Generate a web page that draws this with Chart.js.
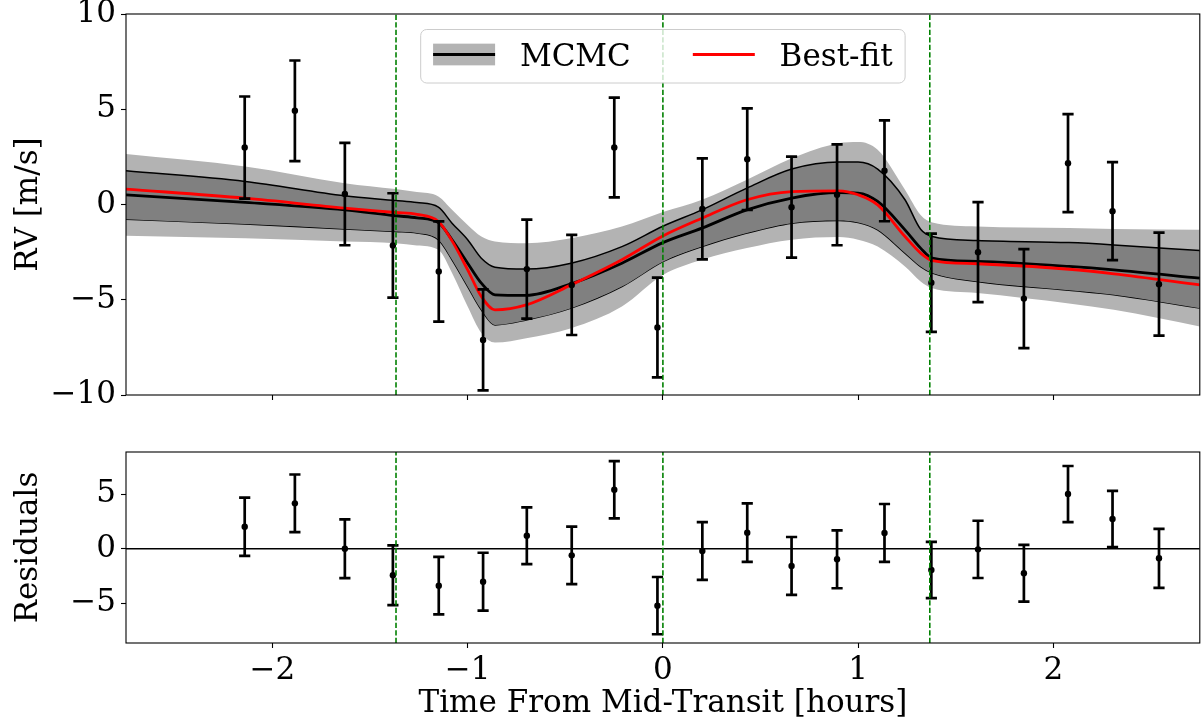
<!DOCTYPE html>
<html>
<head>
<meta charset="utf-8">
<title>RV and residuals vs time from mid-transit</title>
<script src="https://cdn.jsdelivr.net/npm/chart.js@4.4.1/dist/chart.umd.min.js"></script>
<style>
  html, body { margin:0; padding:0; background:#ffffff; }
  #stage { position:relative; width:1203px; height:725px; overflow:hidden; background:#ffffff; }
  #stage canvas { position:absolute; left:0; top:0; }
</style>
</head>
<body>
<div id="stage">
  <canvas id="rvCanvas" width="1203" height="725"></canvas>
  <canvas id="resCanvas" width="1203" height="725"></canvas>
</div>
<script>
// ---------------- data ----------------
const timeHours = [-2.142,-1.885,-1.629,-1.383,-1.148,-0.921,-0.697,-0.467,-0.249,-0.028,0.202,0.432,0.659,0.892,1.135,1.375,1.614,1.849,2.075,2.303,2.541];
const rvValues = [2.99,4.92,0.55,-2.15,-3.52,-7.11,-3.39,-4.22,2.99,-6.46,-0.23,2.38,-0.14,0.51,1.77,-4.11,-2.50,-4.94,2.17,-0.35,-4.18];
const rvErrors = [2.68,2.64,2.69,2.74,2.63,2.65,2.60,2.63,2.62,2.62,2.65,2.67,2.65,2.65,2.65,2.58,2.62,2.60,2.57,2.57,2.70];
const residualValues = [2.01,4.15,0.00,-2.43,-3.38,-3.02,1.19,-0.61,5.40,-5.21,-0.21,1.47,-1.58,-0.97,1.44,-1.95,-0.06,-2.25,5.00,2.72,-0.88];
const residualErrors = [2.67,2.64,2.69,2.74,2.63,2.65,2.60,2.63,2.62,2.62,2.65,2.67,2.65,2.65,2.65,2.58,2.62,2.60,2.57,2.57,2.70];

const modelTime        = [-2.75,-2.14,-1.63,-1.37,-1.26,-1.15,-1.08,-1.00,-0.93,-0.86,-0.70,-0.47,-0.21,0.00,0.20,0.43,0.66,0.90,1.00,1.10,1.24,1.32,1.38,1.61,2.08,2.31,2.75];
const mcmc2SigmaUpper  = [2.65,2.00,1.12,0.81,0.65,0.42,-0.28,-1.07,-1.68,-1.94,-2.03,-1.77,-1.16,-0.40,0.25,1.30,2.43,3.22,3.28,2.87,0.77,-0.55,-0.95,-1.16,-1.24,-1.28,-1.33];
const mcmc1SigmaUpper  = [1.77,1.21,0.46,0.21,0.10,-0.14,-0.98,-1.85,-2.82,-3.29,-3.39,-3.08,-2.21,-1.14,-0.28,0.86,1.86,2.23,2.23,1.86,0.25,-1.30,-1.68,-1.89,-2.00,-2.12,-2.42];
const mcmcMedian       = [0.51,0.11,-0.28,-0.59,-0.70,-0.95,-1.85,-3.08,-4.13,-4.74,-4.77,-4.16,-3.08,-2.00,-1.24,-0.28,0.34,0.63,0.60,0.16,-1.33,-2.29,-2.82,-2.99,-3.25,-3.43,-3.87];
const bestFit          = [0.81,0.33,-0.19,-0.42,-0.52,-0.89,-1.91,-3.43,-4.83,-5.53,-5.27,-4.22,-2.90,-1.65,-0.72,0.25,0.68,0.72,0.51,-0.02,-1.68,-2.55,-2.94,-3.11,-3.40,-3.64,-4.22];
const mcmc1SigmaLower  = [-0.77,-1.03,-1.28,-1.42,-1.50,-1.85,-2.90,-4.31,-5.53,-6.32,-6.06,-5.44,-4.31,-3.00,-2.21,-1.50,-0.98,-0.84,-0.95,-1.33,-2.55,-3.26,-3.60,-4.04,-4.50,-4.74,-5.44];
const mcmc2SigmaLower  = [-1.64,-1.77,-1.94,-2.03,-2.15,-2.38,-3.60,-5.36,-6.75,-7.25,-7.02,-6.49,-5.35,-3.70,-2.90,-2.29,-1.85,-1.71,-1.85,-2.21,-3.26,-4.04,-4.40,-4.65,-5.20,-5.53,-6.40];

const transitTimes = [-1.367, 0, 1.367];
const xRange = [-2.75, 2.75];
const rvRange = [-10, 10];
const residualRange = [-8.63, 8.85];
const xTickValues = [-2, -1, 0, 1, 2];
const rvTickValues = [-10, -5, 0, 5, 10];
const residualTickValues = [-5, 0, 5];
const legendLabels = ['MCMC', 'Best-fit'];
const axisTitles = { x: 'Time From Mid-Transit [hours]', rv: 'RV [m/s]', residual: 'Residuals' };

// ---------------- styling ----------------
const FONT = "'DejaVu Serif', 'Liberation Serif', serif";
const FS = 31;
const LIGHT = '#b3b3b3';
const DARK = '#808080';
const GREEN = '#008000';
const RED = '#ff0000';

const xy = (xs, ys) => xs.map((x, i) => ({ x: x, y: ys[i] }));
const minusFmt = v => String(v).replace('-', '\u2212');

const framePlugin = {
  id: 'frame',
  afterDatasetsDraw(chart) {
    const { ctx, chartArea: a } = chart;
    ctx.save();
    ctx.strokeStyle = '#000';
    ctx.lineWidth = 1.1;
    ctx.strokeRect(a.left, a.top, a.right - a.left, a.bottom - a.top);
    ctx.restore();
  }
};

const errorBarPlugin = {
  id: 'errorBars',
  beforeDatasetDraw(chart, args) {
    const ds = chart.data.datasets[args.index];
    if (!ds.errorValues) return;
    const { ctx, chartArea: a } = chart;
    const xs = chart.scales.x, ys = chart.scales.y;
    ctx.save();
    ctx.beginPath();
    ctx.rect(a.left, a.top, a.right - a.left, a.bottom - a.top);
    ctx.clip();
    ctx.strokeStyle = '#000';
    ctx.lineWidth = 2.7;
    ctx.lineCap = 'butt';
    const cap = 5.6;
    ds.data.forEach((p, i) => {
      const e = ds.errorValues[i];
      const px = xs.getPixelForValue(p.x);
      const pt = ys.getPixelForValue(p.y + e);
      const pb = ys.getPixelForValue(p.y - e);
      ctx.beginPath();
      ctx.moveTo(px, pt); ctx.lineTo(px, pb);
      ctx.moveTo(px - cap, pt); ctx.lineTo(px + cap, pt);
      ctx.moveTo(px - cap, pb); ctx.lineTo(px + cap, pb);
      ctx.stroke();
    });
    ctx.restore();
  }
};

const legendPlugin = {
  id: 'boxLegend',
  afterDraw(chart, args, opts) {
    if (!opts || !opts.items) return;
    const { ctx, chartArea: a } = chart;
    const em = FS;
    ctx.save();
    ctx.font = FS + 'px ' + FONT;
    const widths = opts.items.map(it => ctx.measureText(it.text).width);
    const handleLen = 2 * em, pad = 0.8 * em, colSp = 2 * em, bpad = 0.4 * em;
    const n = opts.items.length;
    const total = 2 * bpad + widths.reduce((s, w) => s + w, 0) + n * (handleLen + pad) + (n - 1) * colSp;
    const x0 = (a.left + a.right) / 2 - total / 2;
    const y0 = a.top + 0.5 * em;
    const h = 53.5;
    const r = 6;
    ctx.beginPath();
    ctx.moveTo(x0 + r, y0);
    ctx.arcTo(x0 + total, y0, x0 + total, y0 + h, r);
    ctx.arcTo(x0 + total, y0 + h, x0, y0 + h, r);
    ctx.arcTo(x0, y0 + h, x0, y0, r);
    ctx.arcTo(x0, y0, x0 + total, y0, r);
    ctx.closePath();
    ctx.fillStyle = 'rgba(255,255,255,0.8)';
    ctx.fill();
    ctx.strokeStyle = '#cccccc';
    ctx.lineWidth = 1;
    ctx.stroke();
    let x = x0 + bpad;
    const cy = y0 + 25;
    opts.items.forEach((it, i) => {
      if (it.band) {
        ctx.fillStyle = it.band;
        ctx.fillRect(x, cy - 0.35 * em, handleLen, 0.7 * em);
      }
      ctx.beginPath();
      ctx.moveTo(x, cy); ctx.lineTo(x + handleLen, cy);
      ctx.strokeStyle = it.line;
      ctx.lineWidth = it.width;
      ctx.stroke();
      ctx.fillStyle = '#000';
      ctx.textBaseline = 'alphabetic';
      ctx.textAlign = 'left';
      ctx.fillText(it.text, x + handleLen + pad, cy + 0.729 * em / 2);
      x += handleLen + pad + widths[i] + colSp;
    });
    ctx.restore();
  }
};

Chart.defaults.font.family = FONT;
Chart.defaults.font.size = FS;
Chart.defaults.color = '#000';

function lineDs(label, ys, extra) {
  return Object.assign({
    label: label,
    data: xy(modelTime, ys),
    pointRadius: 0,
    pointHoverRadius: 0,
    borderWidth: 0,
    borderColor: 'rgba(0,0,0,0)',
    fill: false,
    cubicInterpolationMode: 'monotone',
    showLine: true
  }, extra);
}

function transitDs(range) {
  return transitTimes.map((t, i) => ({
    label: 'transit' + i,
    data: [{ x: t, y: range[0] }, { x: t, y: range[1] }],
    borderColor: GREEN,
    borderWidth: 1.6,
    borderDash: [5.2, 2.3],
    pointRadius: 0,
    pointHoverRadius: 0,
    fill: false,
    tension: 0,
    order: 1
  }));
}

function xScale(height, showLabels, title) {
  return {
    type: 'linear',
    min: xRange[0], max: xRange[1],
    afterBuildTicks: ax => { ax.ticks = xTickValues.map(v => ({ value: v })); },
    afterFit: ax => { ax.height = height; ax.paddingLeft = 0; ax.paddingRight = 0; },
    ticks: { display: showLabels, padding: 4, color: '#000', font: { size: FS, family: FONT }, callback: v => minusFmt(v) },
    grid: { display: true, drawOnChartArea: false, drawTicks: true, tickLength: 5, tickWidth: 1.1, tickColor: '#000', color: '#000' },
    border: { display: false },
    title: title ? { display: true, text: title, color: '#000', font: { size: FS, family: FONT }, padding: { bottom: 2, top: 0 } } : { display: false }
  };
}

function yScale(range, ticks, title) {
  return {
    type: 'linear',
    min: range[0], max: range[1],
    afterBuildTicks: ax => { ax.ticks = ticks.map(v => ({ value: v })); },
    afterFit: ax => { ax.width = 126; ax.paddingTop = 0; ax.paddingBottom = 0; },
    ticks: { padding: 5, color: '#000', font: { size: FS, family: FONT }, callback: v => minusFmt(v) },
    grid: { display: true, drawOnChartArea: false, drawTicks: true, tickLength: 5, tickWidth: 1.1, tickColor: '#000', color: '#000' },
    border: { display: false },
    title: { display: true, text: title, color: '#000', font: { size: FS, family: FONT }, padding: { top: 10, bottom: 0 } }
  };
}

// ---------------- RV panel ----------------
new Chart(document.getElementById('rvCanvas'), {
  type: 'line',
  data: {
    datasets: [
      lineDs('2σ upper', mcmc2SigmaUpper, { fill: '+1', backgroundColor: LIGHT, order: 10 }),
      lineDs('2σ lower', mcmc2SigmaLower, { order: 10 }),
      lineDs('1σ upper', mcmc1SigmaUpper, { fill: '+1', backgroundColor: DARK, borderColor: '#000', borderWidth: 1.5, order: 9 }),
      lineDs('1σ lower', mcmc1SigmaLower, { borderColor: '#000', borderWidth: 1.5, order: 9 }),
      lineDs(legendLabels[0], mcmcMedian, { borderColor: '#000', borderWidth: 2.8, order: 8 }),
      lineDs(legendLabels[1], bestFit, { borderColor: RED, borderWidth: 2.8, order: 7 }),
      {
        label: 'RV data',
        data: xy(timeHours, rvValues),
        errorValues: rvErrors,
        showLine: false,
        pointRadius: 3.2,
        pointHoverRadius: 3.2,
        pointBackgroundColor: '#000',
        pointBorderColor: '#000',
        pointBorderWidth: 0,
        order: 5
      }
    ].concat(transitDs(rvRange))
  },
  options: {
    responsive: false,
    animation: false,
    devicePixelRatio: 1,
    events: [],
    layout: { padding: { top: 14, right: 1, left: 0, bottom: 0 } },
    scales: {
      x: xScale(330, false, null),
      y: yScale(rvRange, rvTickValues, axisTitles.rv)
    },
    plugins: {
      legend: { display: false },
      tooltip: { enabled: false },
      boxLegend: {
        items: [
          { text: legendLabels[0], band: LIGHT, line: '#000', width: 2.8 },
          { text: legendLabels[1], band: null, line: RED, width: 2.8 }
        ]
      }
    }
  },
  plugins: [errorBarPlugin, framePlugin, legendPlugin]
});

// ---------------- residual panel ----------------
new Chart(document.getElementById('resCanvas'), {
  type: 'line',
  data: {
    datasets: [
      {
        label: 'zero',
        data: [{ x: xRange[0], y: 0 }, { x: xRange[1], y: 0 }],
        borderColor: '#000',
        borderWidth: 1.6,
        pointRadius: 0,
        fill: false,
        order: 8
      },
      {
        label: 'Residuals',
        data: xy(timeHours, residualValues),
        errorValues: residualErrors,
        showLine: false,
        pointRadius: 3.2,
        pointHoverRadius: 3.2,
        pointBackgroundColor: '#000',
        pointBorderColor: '#000',
        pointBorderWidth: 0,
        order: 5
      }
    ].concat(transitDs(residualRange))
  },
  options: {
    responsive: false,
    animation: false,
    devicePixelRatio: 1,
    events: [],
    layout: { padding: { top: 452, right: 1, left: 0, bottom: 0 } },
    scales: {
      x: xScale(82, true, axisTitles.x),
      y: yScale(residualRange, residualTickValues, axisTitles.residual)
    },
    plugins: {
      legend: { display: false },
      tooltip: { enabled: false }
    }
  },
  plugins: [errorBarPlugin, framePlugin]
});
</script>
</body>
</html>
